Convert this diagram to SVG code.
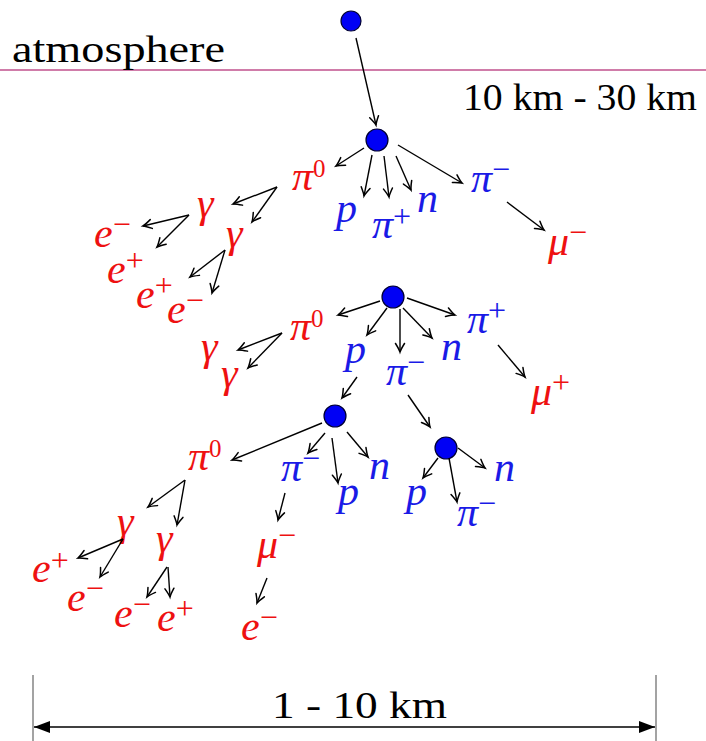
<svg xmlns="http://www.w3.org/2000/svg" width="706" height="741" viewBox="0 0 706 741">
<defs>
<marker id="ah" markerUnits="userSpaceOnUse" markerWidth="12" markerHeight="12" refX="0" refY="0" viewBox="-9 -6 10 12" orient="auto" overflow="visible">
<path d="M-8.5,-4.5 Q-2.5,-0.8 0,0 Q-2.5,0.8 -8.5,4.5" fill="none" stroke="#000" stroke-width="1.5" stroke-linecap="round"/>
</marker>
<marker id="tri" markerUnits="userSpaceOnUse" markerWidth="16" markerHeight="12" refX="16" refY="6" viewBox="0 0 16 12" orient="auto-start-reverse">
<path d="M0,0 L16,6 L0,12 Z" fill="#000"/>
</marker>
</defs>

<g id="atmosphere-line">
<line x1="0" y1="70" x2="706" y2="70" stroke="#c0508c" stroke-width="1.4"/>
<text x="12" y="62" font-family="Liberation Serif" font-size="37" textLength="213" lengthAdjust="spacingAndGlyphs">atmosphere</text>
<text x="463" y="110" font-family="Liberation Serif" font-size="37" textLength="234" lengthAdjust="spacingAndGlyphs">10 km - 30 km</text>
</g>

<g id="nodes" fill="#0000f5" stroke="#000033" stroke-width="1.2">
<circle id="n0" cx="351" cy="21" r="10"/>
<circle id="n1" cx="377" cy="140" r="11"/>
<circle id="n2" cx="393" cy="297" r="11"/>
<circle id="n3" cx="335" cy="416" r="11"/>
<circle id="n4" cx="446" cy="448" r="11"/>
</g>

<g id="labels-red" fill="#ee1111" font-family="Liberation Serif" font-size="42" font-style="italic">
<g id="l1-pi0"><text x="292" y="190">π<tspan font-size="25" font-style="normal" dy="-13">0</tspan></text></g>
<g id="l1-muminus"><text x="548" y="255">μ<tspan font-size="32" font-style="normal" dy="-12">−</tspan></text></g>
<g id="l1-g1"><text x="197" y="217">γ</text></g>
<g id="l1-g2"><text x="226" y="247">γ</text></g>
<g id="l1-em1"><text x="94" y="247">e<tspan font-size="32" font-style="normal" dy="-12">−</tspan></text></g>
<g id="l1-ep1"><text x="107" y="283">e<tspan font-size="32" font-style="normal" dy="-12">+</tspan></text></g>
<g id="l1-ep2"><text x="136" y="308">e<tspan font-size="32" font-style="normal" dy="-12">+</tspan></text></g>
<g id="l1-em2"><text x="167" y="323">e<tspan font-size="32" font-style="normal" dy="-12">−</tspan></text></g>
<g id="l2-pi0"><text x="290" y="340">π<tspan font-size="25" font-style="normal" dy="-13">0</tspan></text></g>
<g id="l2-g1"><text x="201" y="360">γ</text></g>
<g id="l2-g2"><text x="221" y="387">γ</text></g>
<g id="l2-muplus"><text x="531" y="405">μ<tspan font-size="32" font-style="normal" dy="-12">+</tspan></text></g>
<g id="l3-pi0"><text x="188" y="470">π<tspan font-size="25" font-style="normal" dy="-13">0</tspan></text></g>
<g id="l3-muminus"><text x="257" y="558">μ<tspan font-size="32" font-style="normal" dy="-12">−</tspan></text></g>
<g id="l3-eminus"><text x="241" y="640">e<tspan font-size="32" font-style="normal" dy="-12">−</tspan></text></g>
<g id="l3-g1"><text x="117" y="535">γ</text></g>
<g id="l3-g2"><text x="156" y="552">γ</text></g>
<g id="l3-ep1"><text x="32" y="582">e<tspan font-size="32" font-style="normal" dy="-11">+</tspan></text></g>
<g id="l3-em1"><text x="67" y="611">e<tspan font-size="32" font-style="normal" dy="-12">−</tspan></text></g>
<g id="l3-em2"><text x="114" y="627">e<tspan font-size="32" font-style="normal" dy="-12">−</tspan></text></g>
<g id="l3-ep2"><text x="157" y="631">e<tspan font-size="32" font-style="normal" dy="-12">+</tspan></text></g>
</g>

<g id="labels-blue" fill="#1a1ae6" font-family="Liberation Serif" font-size="42" font-style="italic">
<g id="l1-p"><text x="336" y="222">p</text></g>
<g id="l1-piplus"><text x="372" y="238">π<tspan font-size="32" font-style="normal" dy="-11">+</tspan></text></g>
<g id="l1-n"><text x="417" y="212">n</text></g>
<g id="l1-piminus"><text x="471" y="192">π<tspan font-size="32" font-style="normal" dy="-12">−</tspan></text></g>
<g id="l2-p"><text x="345" y="363">p</text></g>
<g id="l2-piminus"><text x="386" y="385">π<tspan font-size="32" font-style="normal" dy="-12">−</tspan></text></g>
<g id="l2-n"><text x="441" y="360">n</text></g>
<g id="l2-piplus"><text x="467" y="333">π<tspan font-size="32" font-style="normal" dy="-12">+</tspan></text></g>
<g id="l3-piminus"><text x="281" y="481">π<tspan font-size="32" font-style="normal" dy="-12">−</tspan></text></g>
<g id="l3-p"><text x="338" y="505">p</text></g>
<g id="l3-n"><text x="369" y="479">n</text></g>
<g id="l3b-p"><text x="406" y="505">p</text></g>
<g id="l3b-piminus"><text x="457" y="526">π<tspan font-size="32" font-style="normal" dy="-12">−</tspan></text></g>
<g id="l3b-n"><text x="494" y="481">n</text></g>
</g>

<g id="connectors" stroke="#000" stroke-width="1.4" marker-end="url(#ah)">
<line x1="356" y1="38" x2="376" y2="125"/>
<line x1="364" y1="148" x2="336" y2="166"/>
<line x1="372" y1="155" x2="364" y2="196"/>
<line x1="384" y1="156" x2="389" y2="197"/>
<line x1="396" y1="156" x2="411" y2="190"/>
<line x1="398" y1="145" x2="462" y2="183"/>
<line x1="507" y1="202" x2="544" y2="230"/>
<line x1="277" y1="187" x2="233" y2="204"/>
<line x1="277" y1="187" x2="252" y2="222"/>
<line x1="189" y1="215" x2="143" y2="226"/>
<line x1="189" y1="215" x2="157" y2="247"/>
<line x1="225" y1="250" x2="190" y2="277"/>
<line x1="225" y1="250" x2="212" y2="293"/>
<line x1="380" y1="301" x2="338" y2="315"/>
<line x1="387" y1="308" x2="367" y2="335"/>
<line x1="400" y1="309" x2="400" y2="352"/>
<line x1="403" y1="308" x2="432" y2="338"/>
<line x1="407" y1="298" x2="455" y2="315"/>
<line x1="498" y1="345" x2="525" y2="377"/>
<line x1="282" y1="333" x2="238" y2="350"/>
<line x1="282" y1="333" x2="248" y2="368"/>
<line x1="357" y1="377" x2="342" y2="398"/>
<line x1="408" y1="395" x2="430" y2="427"/>
<line x1="322" y1="423" x2="232" y2="460"/>
<line x1="325" y1="433" x2="308" y2="453"/>
<line x1="332" y1="438" x2="338" y2="483"/>
<line x1="347" y1="432" x2="368" y2="457"/>
<line x1="285" y1="493" x2="278" y2="520"/>
<line x1="267" y1="578" x2="257" y2="603"/>
<line x1="438" y1="458" x2="423" y2="478"/>
<line x1="449" y1="458" x2="457" y2="502"/>
<line x1="458" y1="448" x2="485" y2="468"/>
<line x1="185" y1="480" x2="148" y2="507"/>
<line x1="185" y1="480" x2="177" y2="525"/>
<line x1="123" y1="539" x2="78" y2="558"/>
<line x1="123" y1="539" x2="100" y2="577"/>
<line x1="167" y1="567" x2="147" y2="597"/>
<line x1="168" y1="567" x2="170" y2="597"/>
</g>

<g id="dimension">
<line x1="33" y1="675" x2="33" y2="741" stroke="#666" stroke-width="1.2"/>
<line x1="656" y1="675" x2="656" y2="741" stroke="#666" stroke-width="1.2"/>
<line x1="34" y1="727" x2="655" y2="727" stroke="#000" stroke-width="1.6" marker-start="url(#tri)" marker-end="url(#tri)"/>
<text x="272" y="718" font-family="Liberation Serif" font-size="37" textLength="175" lengthAdjust="spacingAndGlyphs">1 - 10 km</text>
</g>
</svg>
